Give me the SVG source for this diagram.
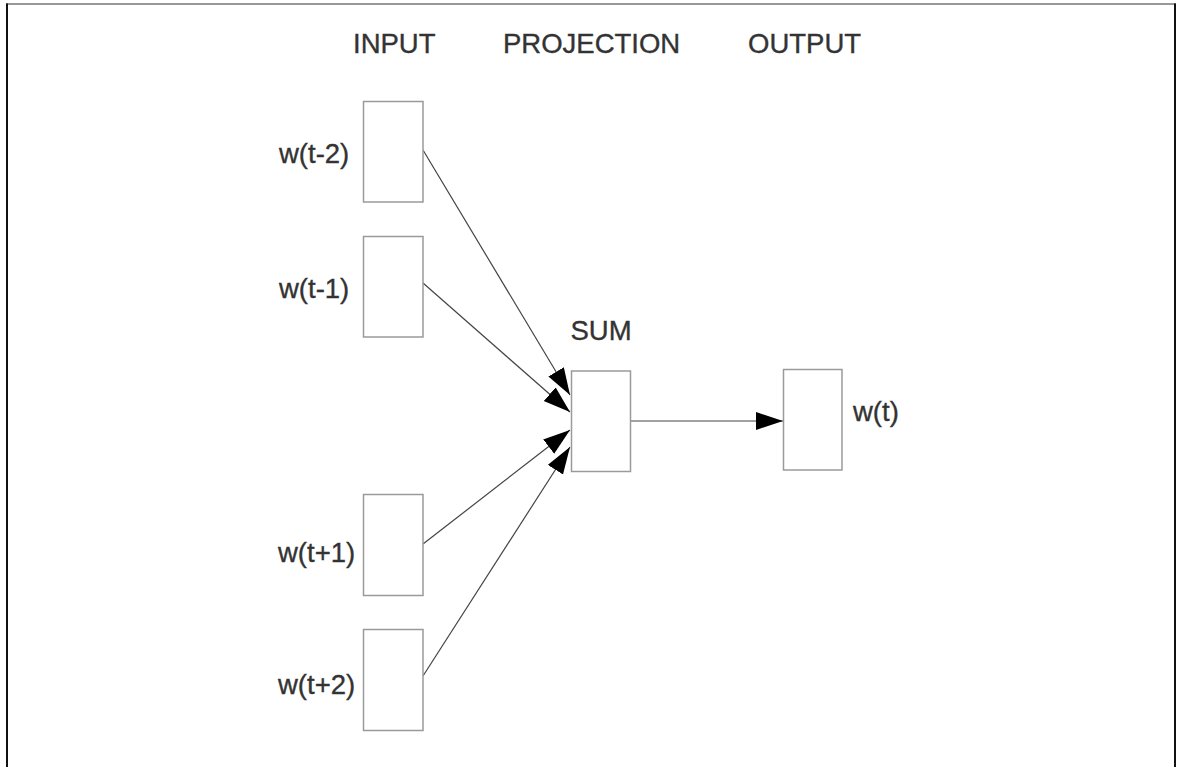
<svg xmlns="http://www.w3.org/2000/svg" width="1177" height="767" viewBox="0 0 1177 767">
  <style>
    .box { fill: #ffffff; stroke: #9a9a9a; stroke-width: 1.5; }
    .lbl { font-family: "Liberation Sans", Arial, sans-serif; font-size: 27.5px; fill: #333333; stroke: #333333; stroke-width: 0.35; }
    .edge { stroke: #444444; stroke-width: 1.2; fill: none; marker-end: url(#arrow); }
  </style>
  <defs>
    <marker id="arrow" markerUnits="userSpaceOnUse" markerWidth="28" markerHeight="20" refX="27" refY="9" orient="auto">
      <path d="M0,0 L27,9 L0,18 Z" fill="#000000"/>
    </marker>
  </defs>

  <rect width="1177" height="767" fill="#ffffff"/>
  <!-- frame -->
  <line x1="6" y1="4" x2="1176" y2="4" stroke="#777777" stroke-width="1.5"/>
  <line x1="7" y1="3.5" x2="7" y2="767" stroke="#111111" stroke-width="2"/>
  <line x1="1175" y1="3.5" x2="1175" y2="767" stroke="#111111" stroke-width="2"/>

  <!-- column headers -->
  <g id="headers">
    <text class="lbl" x="353" y="53">INPUT</text>
    <text class="lbl" x="503" y="53">PROJECTION</text>
    <text class="lbl" x="748" y="53">OUTPUT</text>
  </g>

  <!-- connectors -->
  <g id="connectors">
    <line class="edge" x1="423" y1="150" x2="570" y2="395"/>
    <line class="edge" x1="423" y1="283" x2="570" y2="412"/>
    <line class="edge" x1="423" y1="544" x2="570" y2="430"/>
    <line class="edge" x1="423" y1="676" x2="570" y2="447"/>
    <line class="edge" x1="631" y1="421" x2="783" y2="421"/>
  </g>

  <!-- input words -->
  <g id="w-t-2">
    <rect class="box" x="363.5" y="101.5" width="59.5" height="100.5"/>
    <text class="lbl" x="279" y="163">w(t-2)</text>
  </g>
  <g id="w-t-1">
    <rect class="box" x="363.5" y="236.5" width="59.5" height="100.5"/>
    <text class="lbl" x="279" y="298">w(t-1)</text>
  </g>
  <g id="w-t+1">
    <rect class="box" x="363.5" y="494.5" width="59.5" height="101"/>
    <text class="lbl" x="278" y="562">w(t+1)</text>
  </g>
  <g id="w-t+2">
    <rect class="box" x="363.5" y="629.5" width="59.5" height="101"/>
    <text class="lbl" x="278" y="694">w(t+2)</text>
  </g>

  <!-- projection -->
  <g id="sum">
    <rect class="box" x="571.5" y="371" width="59" height="100.5"/>
    <text class="lbl" x="601" y="340" text-anchor="middle">SUM</text>
  </g>

  <!-- output word -->
  <g id="w-t">
    <rect class="box" x="783.5" y="369.5" width="58.5" height="100.5"/>
    <text class="lbl" x="853" y="421">w(t)</text>
  </g>
</svg>
